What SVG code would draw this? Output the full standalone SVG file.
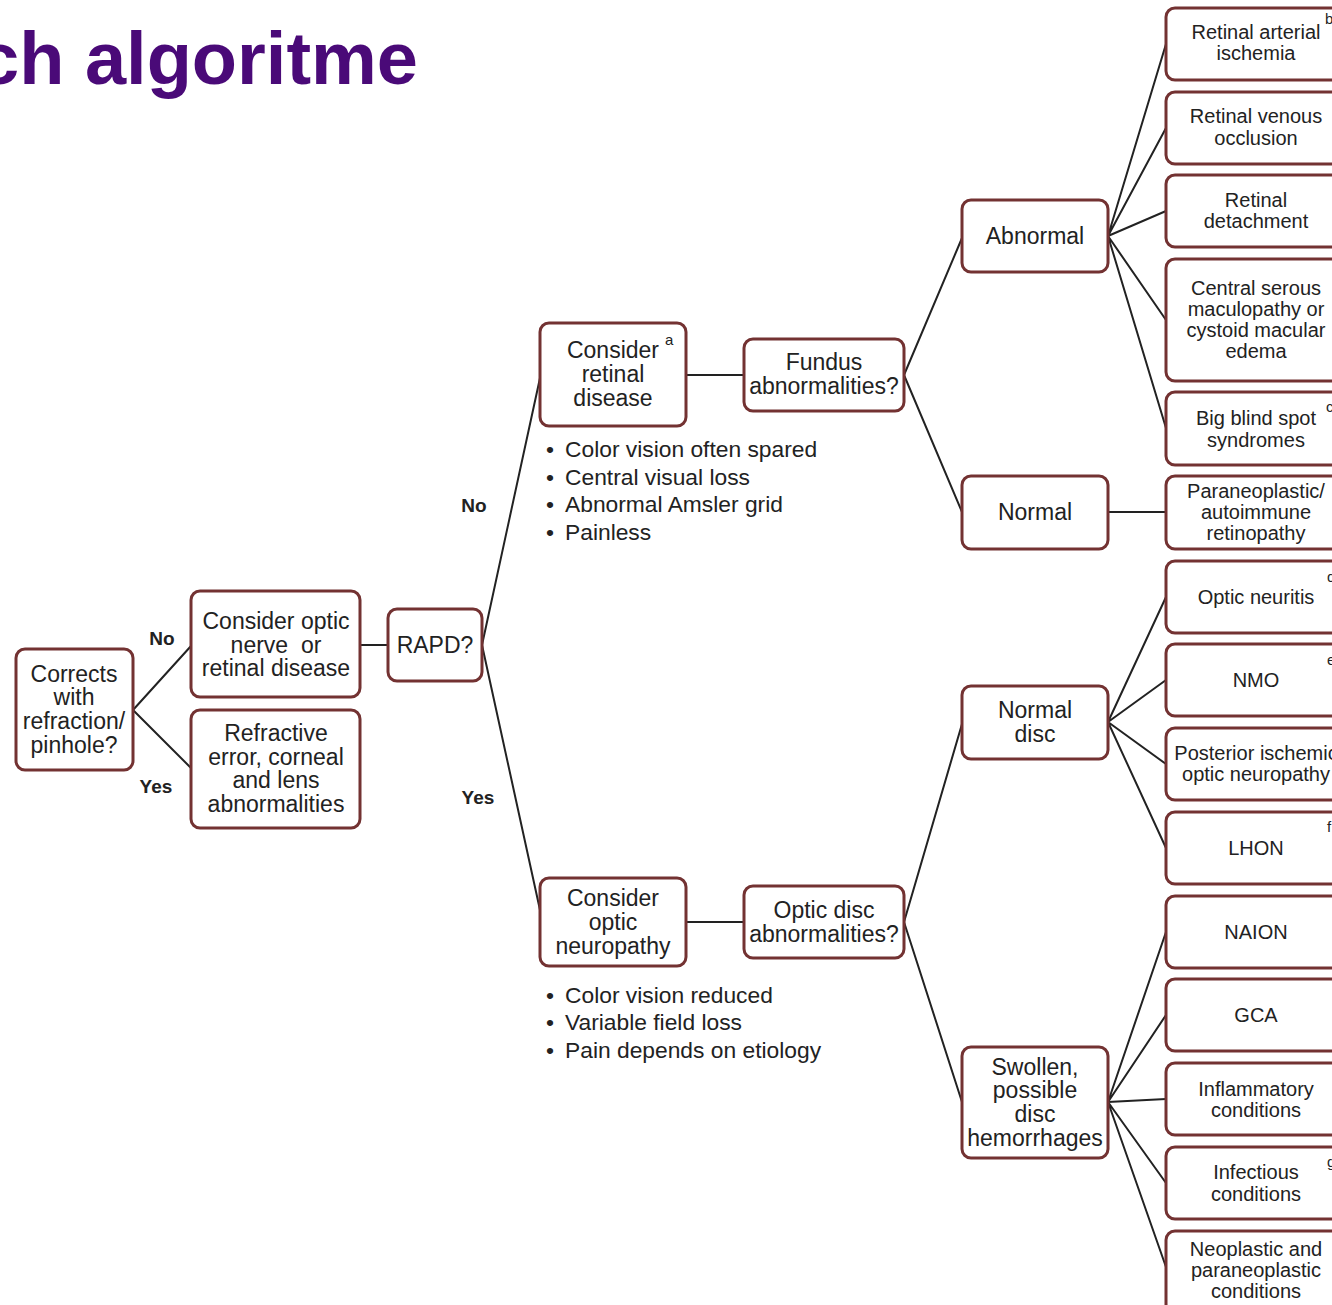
<svg xmlns="http://www.w3.org/2000/svg" width="1332" height="1305" viewBox="0 0 1332 1305">
<style>
.box{fill:#fff;stroke:#733232;stroke-width:3}
.t{font-family:"Liberation Sans",Arial,sans-serif;font-size:23px;fill:#222;text-anchor:middle}
.s{font-family:"Liberation Sans",Arial,sans-serif;font-size:20px;fill:#222;text-anchor:middle}
.b{font-family:"Liberation Sans",Arial,sans-serif;font-size:22.8px;fill:#222}
.lab{font-family:"Liberation Sans",Arial,sans-serif;font-size:19px;font-weight:bold;fill:#222;text-anchor:middle}
.sup{font-family:"Liberation Sans",Arial,sans-serif;font-size:15px;fill:#222}
.c{stroke:#222;stroke-width:2;fill:none}
</style>
<rect width="1332" height="1305" fill="#fff"/>
<text x="418" y="84" font-family="Liberation Sans,Arial,sans-serif" font-size="74" font-weight="bold" fill="#4a0a78" text-anchor="end">ch algoritme</text>

<g id="connectors">
<path class="c" d="M133 710 L191 646 M133 710 L191 768"/>
<path class="c" d="M360 645 L388 645"/>
<path class="c" d="M482 645 L540 378 M482 645 L540 910"/>
<path class="c" d="M686 375 L744 375"/>
<path class="c" d="M686 922 L744 922"/>
<path class="c" d="M904 375 L962 238 M904 375 L962 512"/>
<path class="c" d="M904 922 L962 724 M904 922 L962 1102"/>
<path class="c" d="M1108 236 L1166 44 M1108 236 L1166 128 M1108 236 L1166 211 M1108 236 L1166 320 M1108 236 L1166 428"/>
<path class="c" d="M1108 512 L1166 512"/>
<path class="c" d="M1108 722 L1166 597 M1108 722 L1166 680 M1108 722 L1166 764 M1108 722 L1166 848"/>
<path class="c" d="M1108 1102 L1166 932 M1108 1102 L1166 1015 M1108 1102 L1166 1099 M1108 1102 L1166 1183 M1108 1102 L1166 1267"/>
</g>

<g id="labels">
<text class="lab" x="162" y="645">No</text>
<text class="lab" x="156" y="793">Yes</text>
<text class="lab" x="474" y="512">No</text>
<text class="lab" x="478" y="804">Yes</text>
</g>

<g id="n-corrects"><rect class="box" x="16" y="649" width="117" height="121" rx="9"/>
<text class="t" x="74" y="682">Corrects</text><text class="t" x="74" y="705">with</text><text class="t" x="74" y="729">refraction/</text><text class="t" x="74" y="753">pinhole?</text></g>

<g id="n-optic-retinal"><rect class="box" x="191" y="591" width="169" height="106" rx="9"/>
<text class="t" x="276" y="629">Consider optic</text><text class="t" x="276" y="653" xml:space="preserve">nerve  or</text><text class="t" x="276" y="676">retinal disease</text></g>

<g id="n-refractive"><rect class="box" x="191" y="710" width="169" height="118" rx="9"/>
<text class="t" x="276" y="741">Refractive</text><text class="t" x="276" y="765">error, corneal</text><text class="t" x="276" y="788">and lens</text><text class="t" x="276" y="812">abnormalities</text></g>

<g id="n-rapd"><rect class="box" x="388" y="609" width="94" height="72" rx="9"/>
<text class="t" x="435" y="653">RAPD?</text></g>

<g id="n-retinal"><rect class="box" x="540" y="323" width="146" height="103" rx="9"/>
<text class="t" x="613" y="358">Consider</text><text class="t" x="613" y="382">retinal</text><text class="t" x="613" y="406">disease</text>
<text class="sup" x="665" y="345">a</text></g>

<g id="n-fundus"><rect class="box" x="744" y="339" width="160" height="72" rx="9"/>
<text class="t" x="824" y="370">Fundus</text><text class="t" x="824" y="394">abnormalities?</text></g>

<g id="n-neuropathy"><rect class="box" x="540" y="878" width="146" height="88" rx="9"/>
<text class="t" x="613" y="906">Consider</text><text class="t" x="613" y="930">optic</text><text class="t" x="613" y="954">neuropathy</text></g>

<g id="n-opticdisc"><rect class="box" x="744" y="886" width="160" height="72" rx="9"/>
<text class="t" x="824" y="918">Optic disc</text><text class="t" x="824" y="942">abnormalities?</text></g>

<g id="bullets1">
<text class="b" x="546" y="457">•</text><text class="b" x="565" y="457">Color vision often spared</text>
<text class="b" x="546" y="485">•</text><text class="b" x="565" y="485">Central visual loss</text>
<text class="b" x="546" y="512">•</text><text class="b" x="565" y="512">Abnormal Amsler grid</text>
<text class="b" x="546" y="540">•</text><text class="b" x="565" y="540">Painless</text>
</g>
<g id="bullets2">
<text class="b" x="546" y="1003">•</text><text class="b" x="565" y="1003">Color vision reduced</text>
<text class="b" x="546" y="1030">•</text><text class="b" x="565" y="1030">Variable field loss</text>
<text class="b" x="546" y="1058">•</text><text class="b" x="565" y="1058">Pain depends on etiology</text>
</g>

<g id="n-abnormal"><rect class="box" x="962" y="200" width="146" height="72" rx="9"/>
<text class="t" x="1035" y="244">Abnormal</text></g>
<g id="n-normal"><rect class="box" x="962" y="476" width="146" height="73" rx="9"/>
<text class="t" x="1035" y="520">Normal</text></g>
<g id="n-normaldisc"><rect class="box" x="962" y="686" width="146" height="73" rx="9"/>
<text class="t" x="1035" y="718">Normal</text><text class="t" x="1035" y="742">disc</text></g>
<g id="n-swollen"><rect class="box" x="962" y="1047" width="146" height="111" rx="9"/>
<text class="t" x="1035" y="1075">Swollen,</text><text class="t" x="1035" y="1098">possible</text><text class="t" x="1035" y="1122">disc</text><text class="t" x="1035" y="1146">hemorrhages</text></g>

<g id="r1"><rect class="box" x="1166" y="8" width="180" height="72" rx="9"/>
<text class="s" x="1256" y="39">Retinal arterial</text><text class="s" x="1256" y="60">ischemia</text><text class="sup" x="1325" y="24">b</text></g>
<g id="r2"><rect class="box" x="1166" y="92" width="180" height="72" rx="9"/>
<text class="s" x="1256" y="123">Retinal venous</text><text class="s" x="1256" y="145">occlusion</text></g>
<g id="r3"><rect class="box" x="1166" y="175" width="180" height="72" rx="9"/>
<text class="s" x="1256" y="207">Retinal</text><text class="s" x="1256" y="228">detachment</text></g>
<g id="r4"><rect class="box" x="1166" y="259" width="180" height="122" rx="9"/>
<text class="s" x="1256" y="295">Central serous</text><text class="s" x="1256" y="316">maculopathy or</text><text class="s" x="1256" y="337">cystoid macular</text><text class="s" x="1256" y="358">edema</text></g>
<g id="r5"><rect class="box" x="1166" y="392" width="180" height="73" rx="9"/>
<text class="s" x="1256" y="425">Big blind spot</text><text class="s" x="1256" y="447">syndromes</text><text class="sup" x="1326" y="412">c</text></g>
<g id="r6"><rect class="box" x="1166" y="476" width="180" height="73" rx="9"/>
<text class="s" x="1256" y="498">Paraneoplastic/</text><text class="s" x="1256" y="519">autoimmune</text><text class="s" x="1256" y="540">retinopathy</text></g>
<g id="r7"><rect class="box" x="1166" y="561" width="180" height="72" rx="9"/>
<text class="s" x="1256" y="604">Optic neuritis</text><text class="sup" x="1327" y="582">d</text></g>
<g id="r8"><rect class="box" x="1166" y="644" width="180" height="72" rx="9"/>
<text class="s" x="1256" y="687">NMO</text><text class="sup" x="1327" y="665">e</text></g>
<g id="r9"><rect class="box" x="1166" y="728" width="180" height="72" rx="9"/>
<text class="s" x="1256" y="760">Posterior ischemic</text><text class="s" x="1256" y="781">optic neuropathy</text></g>
<g id="r10"><rect class="box" x="1166" y="812" width="180" height="72" rx="9"/>
<text class="s" x="1256" y="855">LHON</text><text class="sup" x="1327" y="832">f</text></g>
<g id="r11"><rect class="box" x="1166" y="896" width="180" height="72" rx="9"/>
<text class="s" x="1256" y="939">NAION</text></g>
<g id="r12"><rect class="box" x="1166" y="979" width="180" height="72" rx="9"/>
<text class="s" x="1256" y="1022">GCA</text></g>
<g id="r13"><rect class="box" x="1166" y="1063" width="180" height="72" rx="9"/>
<text class="s" x="1256" y="1096">Inflammatory</text><text class="s" x="1256" y="1117">conditions</text></g>
<g id="r14"><rect class="box" x="1166" y="1147" width="180" height="72" rx="9"/>
<text class="s" x="1256" y="1179">Infectious</text><text class="s" x="1256" y="1201">conditions</text><text class="sup" x="1327" y="1167">g</text></g>
<g id="r15"><rect class="box" x="1166" y="1231" width="180" height="82" rx="9"/>
<text class="s" x="1256" y="1256">Neoplastic and</text><text class="s" x="1256" y="1277">paraneoplastic</text><text class="s" x="1256" y="1298">conditions</text></g>
</svg>
